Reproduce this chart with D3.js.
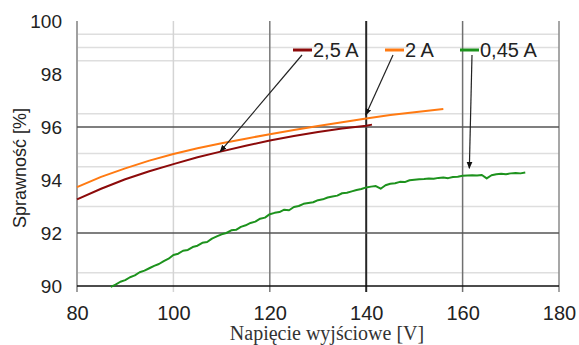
<!DOCTYPE html>
<html>
<head>
<meta charset="utf-8">
<script src="https://cdn.jsdelivr.net/npm/d3@7"></script>
<style>
  html, body { margin: 0; padding: 0; background: #fff; }
  svg { display: block; }
</style>
</head>
<body>
<svg id="chart" width="579" height="345"></svg>
<script>
// series data: [napiecie V, sprawnosc %]
const series25A = [
  [80, 93.27], [85, 93.67], [90, 94.03], [95, 94.33], [100, 94.60], [105, 94.86],
  [110, 95.08], [115, 95.29], [120, 95.49], [125, 95.66], [130, 95.81], [135, 95.94],
  [140, 96.05], [141.2, 96.09]
];
const series2A = [
  [80, 93.73], [85, 94.12], [90, 94.44], [95, 94.73], [100, 94.98], [105, 95.20],
  [110, 95.39], [115, 95.56], [120, 95.73], [125, 95.89], [130, 96.04], [135, 96.18],
  [140, 96.32], [145, 96.45], [150, 96.56], [156, 96.68]
];
const series045A = [
  [87, 89.97], [88, 90.05], [89, 90.16], [90, 90.22], [91, 90.33], [92, 90.40],
  [93, 90.52], [94, 90.58], [95, 90.67], [96, 90.76], [97, 90.83], [98, 90.94],
  [99, 91.03], [100, 91.17], [101, 91.22], [102, 91.33], [103, 91.36], [104, 91.47],
  [105, 91.52], [106, 91.63], [107, 91.66], [108, 91.79], [109, 91.87], [110, 91.95],
  [111, 92.00], [112, 92.10], [113, 92.12], [114, 92.23], [115, 92.29], [116, 92.38],
  [117, 92.43], [118, 92.54], [119, 92.58], [120, 92.71], [121, 92.76], [122, 92.79],
  [123, 92.88], [124, 92.86], [125, 92.98], [126, 93.02], [127, 93.10], [128, 93.13],
  [129, 93.16], [130, 93.24], [131, 93.27], [132, 93.34], [133, 93.38], [134, 93.41],
  [135, 93.50], [136, 93.52], [137, 93.57], [138, 93.62], [139, 93.66], [140, 93.72],
  [141, 93.75], [142, 93.77], [143, 93.67], [144, 93.80], [145, 93.86], [146, 93.88],
  [147, 93.93], [148, 93.92], [149, 93.99], [150, 94.01], [151, 94.03], [152, 94.04],
  [153, 94.06], [154, 94.05], [155, 94.08], [156, 94.09], [157, 94.07], [158, 94.11],
  [159, 94.12], [160, 94.16], [161, 94.17], [162, 94.18], [163, 94.17], [164, 94.19],
  [165, 94.06], [166, 94.18], [167, 94.22], [168, 94.24], [169, 94.22], [170, 94.25],
  [171, 94.26], [172, 94.25], [173, 94.28]
];

const seriesNames = ['2,5 A', '2 A', '0,45 A'];
const xTicks = [80, 100, 120, 140, 160, 180];
const yTicks = [90, 92, 94, 96, 98, 100];
const yMajorGrid = [92, 96];
const yMinorGrid = [90.5, 93, 94.5, 95, 96.5, 98.5, 99, 99.5];
// where each legend arrow points (data coords)
const arrowTargets = [[109.7, 95.07], [139.9, 96.45], [161.4, 94.44]];

const colors = ['#8c0a0a', '#ff7a12', '#1d921d'];
// vertical grid look differs per line in the original
const vGridStyle = {
  80: ['#a0a0a0', 2], 100: ['#d4d4d4', 1.5], 120: ['#7a7a7a', 1.5],
  140: ['#262626', 2], 160: ['#707070', 1.5], 180: ['#8a8a8a', 1.5]
};

const svg = d3.select('#chart');
const x = d3.scaleLinear().domain([80, 180]).range([77, 559]);
const y = d3.scaleLinear().domain([90, 100]).range([286, 21]);

// minor horizontal grid
svg.append('g').selectAll('line').data(yMinorGrid).join('line')
  .attr('x1', x(80)).attr('x2', x(180))
  .attr('y1', d => y(d)).attr('y2', d => y(d))
  .attr('stroke', '#dedede').attr('stroke-width', 1.5);

// vertical grid + x ticks
svg.append('g').selectAll('line').data(xTicks).join('line')
  .attr('x1', d => x(d)).attr('x2', d => x(d))
  .attr('y1', y(100)).attr('y2', y(90) + 6)
  .attr('stroke', d => vGridStyle[d][0])
  .attr('stroke-width', d => vGridStyle[d][1]);

// major horizontal grid
svg.append('g').selectAll('line').data(yMajorGrid).join('line')
  .attr('x1', x(80)).attr('x2', x(180))
  .attr('y1', d => y(d)).attr('y2', d => y(d))
  .attr('stroke', '#555').attr('stroke-width', 1.6);

// bottom axis line
svg.append('line')
  .attr('x1', x(80)).attr('x2', x(180))
  .attr('y1', y(90)).attr('y2', y(90))
  .attr('stroke', '#111').attr('stroke-width', 1.6);

// axes labels via d3 axes, domain and tick lines hidden
const xAxis = svg.append('g')
  .attr('transform', `translate(0,${y(90)})`)
  .call(d3.axisBottom(x).tickValues(xTicks).tickSize(0).tickPadding(20));
xAxis.select('.domain').remove();
xAxis.selectAll('text')
  .attr('font-family', 'Liberation Sans, Arial, sans-serif')
  .attr('font-size', 20).attr('fill', '#222');

const yAxis = svg.append('g')
  .attr('transform', `translate(${x(80)},0)`)
  .call(d3.axisLeft(y).tickValues(yTicks).tickSize(0).tickPadding(15));
yAxis.select('.domain').remove();
yAxis.selectAll('text')
  .attr('font-family', 'Liberation Sans, Arial, sans-serif')
  .attr('font-size', 19).attr('fill', '#222');

// series
const line = d3.line().x(d => x(d[0])).y(d => y(d[1]));
[series25A, series2A, series045A].forEach((s, i) => {
  svg.append('path')
    .datum(s)
    .attr('fill', 'none')
    .attr('stroke', colors[i])
    .attr('stroke-width', 2)
    .attr('stroke-linejoin', 'round')
    .attr('d', line);
});

// legend
const legendX = [293, 385, 460];
const legendY = 50;
seriesNames.forEach((name, i) => {
  svg.append('line')
    .attr('x1', legendX[i]).attr('x2', legendX[i] + 19)
    .attr('y1', legendY).attr('y2', legendY)
    .attr('stroke', colors[i]).attr('stroke-width', 3);
  svg.append('text')
    .attr('x', legendX[i] + 20).attr('y', legendY + 7)
    .attr('font-family', 'Liberation Sans, Arial, sans-serif')
    .attr('font-size', 20).attr('fill', '#222')
    .text(name);
});

// arrows from legend to curves
svg.append('defs').append('marker')
  .attr('id', 'arr')
  .attr('viewBox', '0 0 10 10')
  .attr('refX', 9).attr('refY', 5)
  .attr('markerWidth', 6).attr('markerHeight', 6)
  .attr('orient', 'auto-start-reverse')
  .append('path').attr('d', 'M0,1 L10,5 L0,9 z').attr('fill', '#111');

const arrowStartOffset = [9, 8, 12];
arrowTargets.forEach((t, i) => {
  svg.append('line')
    .attr('x1', legendX[i] + arrowStartOffset[i]).attr('y1', legendY + 5)
    .attr('x2', x(t[0])).attr('y2', y(t[1]))
    .attr('stroke', '#222').attr('stroke-width', 1.2)
    .attr('marker-end', 'url(#arr)');
});

// axis titles
svg.append('text')
  .attr('x', 327).attr('y', 340)
  .attr('text-anchor', 'middle')
  .attr('font-family', 'Liberation Serif, Times New Roman, serif')
  .attr('font-size', 20).attr('fill', '#333')
  .text('Napięcie wyjściowe [V]');

svg.append('text')
  .attr('transform', 'translate(26,168) rotate(-90)')
  .attr('text-anchor', 'middle')
  .attr('font-family', 'Liberation Sans, Arial, sans-serif')
  .attr('font-size', 18).attr('fill', '#222')
  .text('Sprawność [%]');
</script>
</body>
</html>
